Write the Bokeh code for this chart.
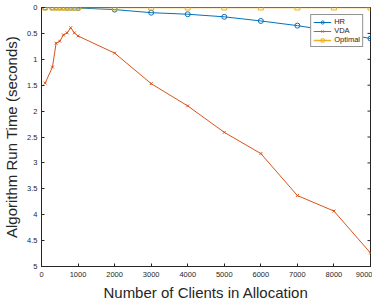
from bokeh.plotting import figure
from bokeh.models import Range1d, FixedTicker, Legend, LegendItem
from bokeh.embed import file_html
from bokeh.resources import INLINE

# ---- data ----
clients = [100, 300, 400, 500, 600, 700, 800, 900, 1000,
           2000, 3000, 4000, 5000, 6000, 7000, 8000, 9000]
hr = [0.0, 0.0, 0.0, 0.0, 0.0, 0.005, 0.005, 0.005, 0.01,
      0.04, 0.10, 0.13, 0.18, 0.26, 0.35, 0.46, 0.60]
vda = [1.46, 1.15, 0.69, 0.65, 0.53, 0.49, 0.39, 0.49, 0.55,
       0.88, 1.47, 1.90, 2.41, 2.82, 3.63, 3.93, 4.74]
optimal = [0.0] * 17

x_ticks = [0, 1000, 2000, 3000, 4000, 5000, 6000, 7000, 8000, 9000]
y_ticks = [0, 0.5, 1, 1.5, 2, 2.5, 3, 3.5, 4, 4.5, 5]
y_tick_labels = ["0", "0.5", "1", "1.5", "2", "2.5", "3", "3.5", "4", "4.5", "5"]

FONT = "Liberation Sans"
DARK = "#262626"

p = figure(width=372, height=303, output_backend="svg", toolbar_location=None,
           x_range=Range1d(0, 9000), y_range=Range1d(5, 0),
           min_border_left=41, min_border_right=2, min_border_top=7, min_border_bottom=36)
p.grid.visible = False
p.outline_line_color = DARK
p.outline_line_width = 1
p.background_fill_color = "white"
p.border_fill_color = "white"

for ax in (p.xaxis[0], p.yaxis[0]):
    ax.major_tick_in = 3
    ax.major_tick_out = 0
    ax.minor_tick_line_color = None
    ax.axis_line_color = DARK
    ax.major_tick_line_color = DARK
    ax.major_label_text_font = FONT
    ax.major_label_text_font_size = "7.5px"
    ax.major_label_text_color = DARK
    ax.axis_label_text_font = FONT
    ax.axis_label_text_font_size = "15px"
    ax.axis_label_text_font_style = "normal"
    ax.axis_label_text_color = DARK

p.xaxis[0].ticker = FixedTicker(ticks=x_ticks)
p.xaxis[0].axis_label = "Number of Clients in Allocation"
p.xaxis[0].major_label_standoff = 5
p.xaxis[0].axis_label_standoff = 4

p.yaxis[0].ticker = FixedTicker(ticks=y_ticks)
p.yaxis[0].major_label_overrides = {t: s for t, s in zip(y_ticks, y_tick_labels)}
p.yaxis[0].axis_label = "Algorithm Run Time (seconds)"
p.yaxis[0].major_label_standoff = 4
p.yaxis[0].axis_label_standoff = 4

# inward ticks on the right border of the box
p.scatter([x_ticks[-1]] * len(y_ticks), y_ticks, marker="dash", size=6,
          line_color=DARK, line_width=1)

BLUE = "#0072BD"
ORANGE = "#D95319"
YELLOW = "#EDB120"

l1 = p.line(clients, hr, line_color=BLUE, line_width=1)
m1 = p.scatter(clients, hr, marker="circle", size=5, line_color=BLUE, fill_alpha=0, line_width=1)
l2 = p.line(clients, vda, line_color=ORANGE, line_width=1)
m2 = p.scatter(clients, vda, marker="x", size=4, line_color=ORANGE, line_width=1)
l3 = p.line(clients, optimal, line_color=YELLOW, line_width=1.5)
m3 = p.scatter(clients, optimal, marker="square", size=5, line_color=YELLOW, fill_alpha=0, line_width=1)

legend = Legend(items=[LegendItem(label="HR", renderers=[l1, m1]),
                       LegendItem(label="VDA", renderers=[l2, m2]),
                       LegendItem(label="Optimal", renderers=[l3, m3])],
                location="top_right", margin=7, padding=2, spacing=0,
                label_text_font=FONT, label_text_font_size="7.5px", label_text_color=DARK,
                label_height=8, glyph_height=8, glyph_width=18, label_standoff=3,
                border_line_color=DARK, border_line_width=1, background_fill_alpha=1)
p.add_layout(legend, "center")

open("out.html", "w").write(file_html(p, INLINE))
